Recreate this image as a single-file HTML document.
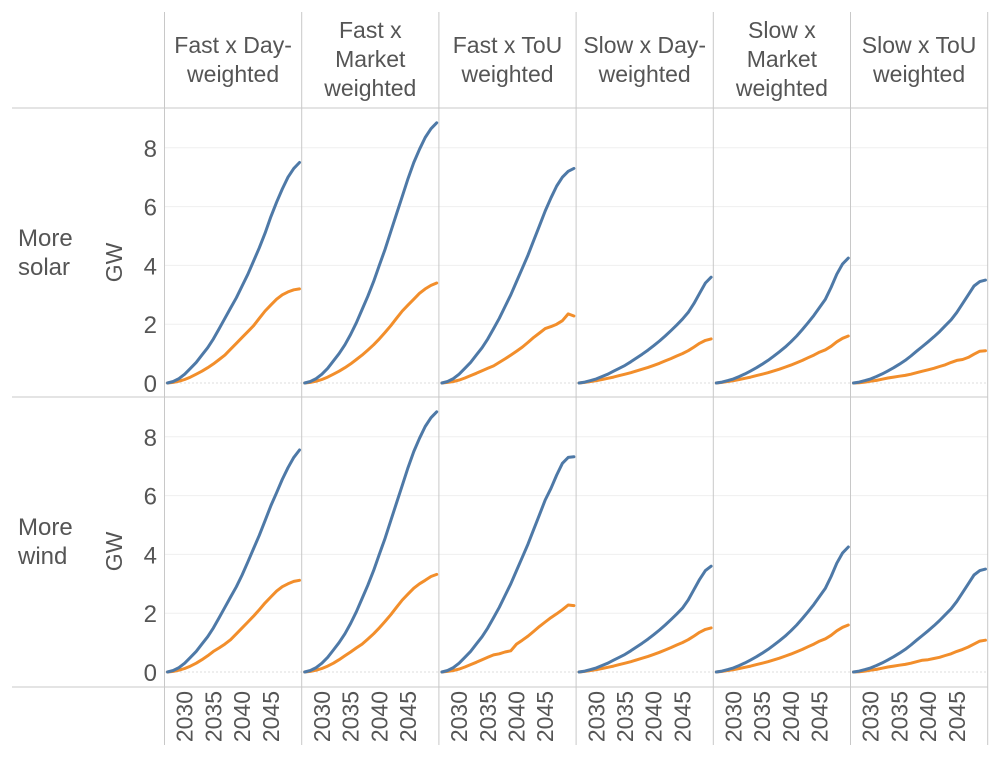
<!DOCTYPE html>
<html><head><meta charset="utf-8"><style>
body{margin:0;background:#fff;}
svg text{font-family:"Liberation Sans",sans-serif;fill:#555;}
</style></head><body>
<svg id="c" width="1000" height="753" xmlns="http://www.w3.org/2000/svg"></svg>
<script>
const years=[2027,2028,2029,2030,2031,2032,2033,2034,2035,2036,2037,2038,2039,2040,2041,2042,2043,2044,2045,2046,2047,2048,2049,2050];
const columns=[["Fast x Day-","weighted"],["Fast x","Market","weighted"],["Fast x ToU","weighted"],["Slow x Day-","weighted"],["Slow x","Market","weighted"],["Slow x ToU","weighted"]];
const rowLabels=[["More","solar"],["More","wind"]];
const yTicks=[0,2,4,6,8];
const xTicks=[2030,2035,2040,2045];
// solar row
const solarBlue1=[0,0.05,0.15,0.3,0.5,0.7,0.95,1.2,1.5,1.85,2.2,2.55,2.9,3.3,3.7,4.15,4.6,5.1,5.65,6.15,6.6,7.0,7.3,7.5];
const solarOrange1=[0,0.02,0.06,0.12,0.2,0.3,0.4,0.52,0.65,0.8,0.95,1.15,1.35,1.55,1.75,1.95,2.2,2.45,2.65,2.85,3.0,3.1,3.17,3.2];
const solarBlue2=[0,0.05,0.15,0.3,0.5,0.75,1.0,1.3,1.65,2.05,2.5,2.95,3.45,4.0,4.55,5.15,5.75,6.35,6.95,7.5,7.95,8.35,8.65,8.85];
const solarOrange2=[0,0.02,0.06,0.12,0.2,0.3,0.4,0.52,0.65,0.8,0.95,1.12,1.3,1.5,1.72,1.95,2.2,2.45,2.65,2.85,3.05,3.2,3.32,3.4];
const solarBlue3=[0,0.05,0.15,0.3,0.5,0.7,0.95,1.2,1.5,1.85,2.2,2.6,3.0,3.45,3.9,4.35,4.85,5.35,5.85,6.3,6.7,7.0,7.2,7.3];
const solarOrange3=[0,0.02,0.05,0.1,0.17,0.25,0.33,0.42,0.5,0.58,0.7,0.82,0.95,1.08,1.22,1.38,1.55,1.7,1.85,1.92,2.0,2.12,2.35,2.28];
const solarBlue4=[0,0.03,0.08,0.14,0.22,0.3,0.4,0.5,0.6,0.72,0.85,0.98,1.12,1.27,1.43,1.6,1.78,1.97,2.17,2.4,2.7,3.05,3.4,3.6];
const solarOrange4=[0,0.02,0.05,0.08,0.12,0.16,0.2,0.25,0.3,0.35,0.41,0.47,0.53,0.6,0.67,0.75,0.83,0.92,1.0,1.1,1.22,1.35,1.45,1.5];
const solarBlue5=[0,0.03,0.08,0.14,0.22,0.31,0.41,0.52,0.64,0.77,0.91,1.06,1.22,1.4,1.6,1.82,2.05,2.3,2.57,2.85,3.25,3.7,4.05,4.25];
const solarOrange5=[0,0.02,0.05,0.08,0.12,0.16,0.2,0.25,0.3,0.35,0.41,0.47,0.54,0.61,0.69,0.77,0.86,0.95,1.05,1.13,1.25,1.4,1.52,1.6];
const solarBlue6=[0,0.03,0.08,0.14,0.22,0.31,0.41,0.52,0.64,0.77,0.92,1.08,1.24,1.4,1.57,1.75,1.95,2.15,2.4,2.7,3.0,3.3,3.45,3.5];
const solarOrange6=[0,0.01,0.03,0.06,0.09,0.13,0.17,0.2,0.23,0.26,0.3,0.35,0.4,0.45,0.5,0.56,0.62,0.7,0.77,0.8,0.87,0.98,1.08,1.1];
// wind row
const windBlue1=[0,0.05,0.15,0.3,0.5,0.7,0.95,1.2,1.5,1.85,2.2,2.55,2.9,3.3,3.75,4.2,4.65,5.15,5.65,6.1,6.55,6.95,7.3,7.55];
const windOrange1=[0,0.02,0.06,0.12,0.2,0.3,0.42,0.55,0.7,0.82,0.95,1.1,1.3,1.5,1.7,1.9,2.12,2.35,2.55,2.75,2.9,3.0,3.08,3.12];
const windBlue2=[0,0.05,0.15,0.3,0.5,0.75,1.0,1.3,1.65,2.05,2.5,2.95,3.45,4.0,4.55,5.15,5.75,6.35,6.95,7.5,7.95,8.35,8.65,8.85];
const windOrange2=[0,0.02,0.06,0.12,0.2,0.3,0.42,0.55,0.68,0.82,0.95,1.12,1.3,1.5,1.72,1.95,2.2,2.45,2.65,2.85,3.0,3.12,3.25,3.32];
const windBlue3=[0,0.05,0.15,0.3,0.5,0.7,0.95,1.2,1.5,1.85,2.2,2.6,3.0,3.45,3.9,4.35,4.85,5.35,5.85,6.25,6.7,7.1,7.3,7.32];
const windOrange3=[0,0.02,0.05,0.1,0.17,0.25,0.33,0.42,0.5,0.58,0.62,0.68,0.72,0.95,1.08,1.22,1.38,1.55,1.7,1.85,1.98,2.12,2.28,2.26];
const windBlue4=[0,0.03,0.08,0.14,0.22,0.3,0.4,0.5,0.6,0.72,0.85,0.98,1.12,1.27,1.43,1.6,1.78,1.97,2.17,2.45,2.8,3.15,3.45,3.6];
const windOrange4=[0,0.02,0.05,0.08,0.12,0.16,0.2,0.25,0.3,0.35,0.41,0.47,0.53,0.6,0.67,0.75,0.83,0.92,1.0,1.1,1.22,1.35,1.45,1.5];
const windBlue5=[0,0.03,0.08,0.14,0.22,0.31,0.41,0.52,0.64,0.77,0.91,1.06,1.22,1.4,1.6,1.82,2.05,2.3,2.57,2.85,3.25,3.7,4.05,4.25];
const windOrange5=[0,0.02,0.05,0.08,0.12,0.16,0.2,0.25,0.3,0.35,0.41,0.47,0.54,0.61,0.69,0.77,0.86,0.95,1.05,1.13,1.25,1.4,1.52,1.6];
const windBlue6=[0,0.03,0.08,0.14,0.22,0.31,0.41,0.52,0.64,0.77,0.92,1.08,1.24,1.4,1.57,1.75,1.95,2.15,2.4,2.7,3.0,3.3,3.45,3.5];
const windOrange6=[0,0.01,0.03,0.06,0.09,0.13,0.17,0.2,0.23,0.26,0.3,0.35,0.4,0.42,0.46,0.5,0.56,0.62,0.7,0.77,0.85,0.95,1.05,1.08];

const series=[[[solarBlue1,solarOrange1],[solarBlue2,solarOrange2],[solarBlue3,solarOrange3],[solarBlue4,solarOrange4],[solarBlue5,solarOrange5],[solarBlue6,solarOrange6]],
[[windBlue1,windOrange1],[windBlue2,windOrange2],[windBlue3,windOrange3],[windBlue4,windOrange4],[windBlue5,windOrange5],[windBlue6,windOrange6]]];
const colors=["#4e79a7","#f28e2b"];
const NS="http://www.w3.org/2000/svg";
const svg=document.getElementById('c');
function mk(tag,attrs,parent){const e=document.createElementNS(NS,tag);for(const k in attrs)e.setAttribute(k,attrs[k]);(parent||svg).appendChild(e);return e;}
const panelLeft=164.5, panelW=137.2;
const rowTop=[108,397], rowZero=[383,672], unit=29.4;
function xs(col,yr){return panelLeft+col*panelW+3+(yr-2027)*5.74;}
function ys(row,v){return rowZero[row]-v*unit;}

for(let r=0;r<2;r++){
  yTicks.forEach(t=>{
    if(t===0){
      const l=mk('line',{x1:panelLeft,x2:988,y1:ys(r,0),y2:ys(r,0),stroke:'#bbb','stroke-dasharray':'1,3','stroke-width':1});
      
      
    } else {
      const l=mk('line',{x1:panelLeft,x2:988,y1:ys(r,t),y2:ys(r,t),stroke:'#efefef','stroke-width':1});
      
      
    }
    const tx=mk('text',{x:157,y:ys(r,t)+9,'text-anchor':'end','font-size':24});
    tx.textContent=t;
    
    
  });
  const gw=mk('text',{transform:`translate(122,${(rowTop[r]+rowTop[r]+289)/2+10}) rotate(-90)`,'text-anchor':'middle','font-size':23});
  gw.textContent='GW';
  
  
  rowLabels[r].forEach((s,i)=>{
    const t=mk('text',{x:18,y:rowTop[r]+138+i*29,'font-size':24});
    t.textContent=s;
    
    
  });
}
for(let k=0;k<=6;k++){
  const x=panelLeft+k*panelW;
  const l=mk('line',{x1:x,x2:x,y1:12,y2:745,stroke:'#c8c8c8','stroke-width':1});
  
  
}
[108,397,687].forEach(y=>{
  const l=mk('line',{x1:12,x2:988,y1:y,y2:y,stroke:'#c8c8c8','stroke-width':1});
  
  
});
columns.forEach((lines,c)=>{
  const cx=panelLeft+c*panelW+panelW/2;
  const start=lines.length===2?53:38;
  lines.forEach((s,i)=>{
    const t=mk('text',{x:cx,y:start+i*29,'text-anchor':'middle','font-size':23});
    t.textContent=s;
    
    
  });
  xTicks.forEach(yr=>{
    const x=xs(c,yr);
    const t=mk('text',{transform:`translate(${x+8},691) rotate(-90)`,'text-anchor':'end','font-size':23});
    t.textContent=yr;
    
    
  });
});
for(let r=0;r<2;r++){
  for(let c=0;c<6;c++){
    [1,0].forEach(si=>{
      const vals=series[r][c][si];
      const d=vals.map((v,i)=>(i?'L':'M')+xs(c,years[i]).toFixed(1)+','+ys(r,v).toFixed(1)).join(' ');
      const p=mk('path',{d:d,fill:'none',stroke:colors[si],'stroke-width':3,'stroke-linejoin':'round','stroke-linecap':'round'});
      
      
    });
  }
}
</script>
</body></html>
